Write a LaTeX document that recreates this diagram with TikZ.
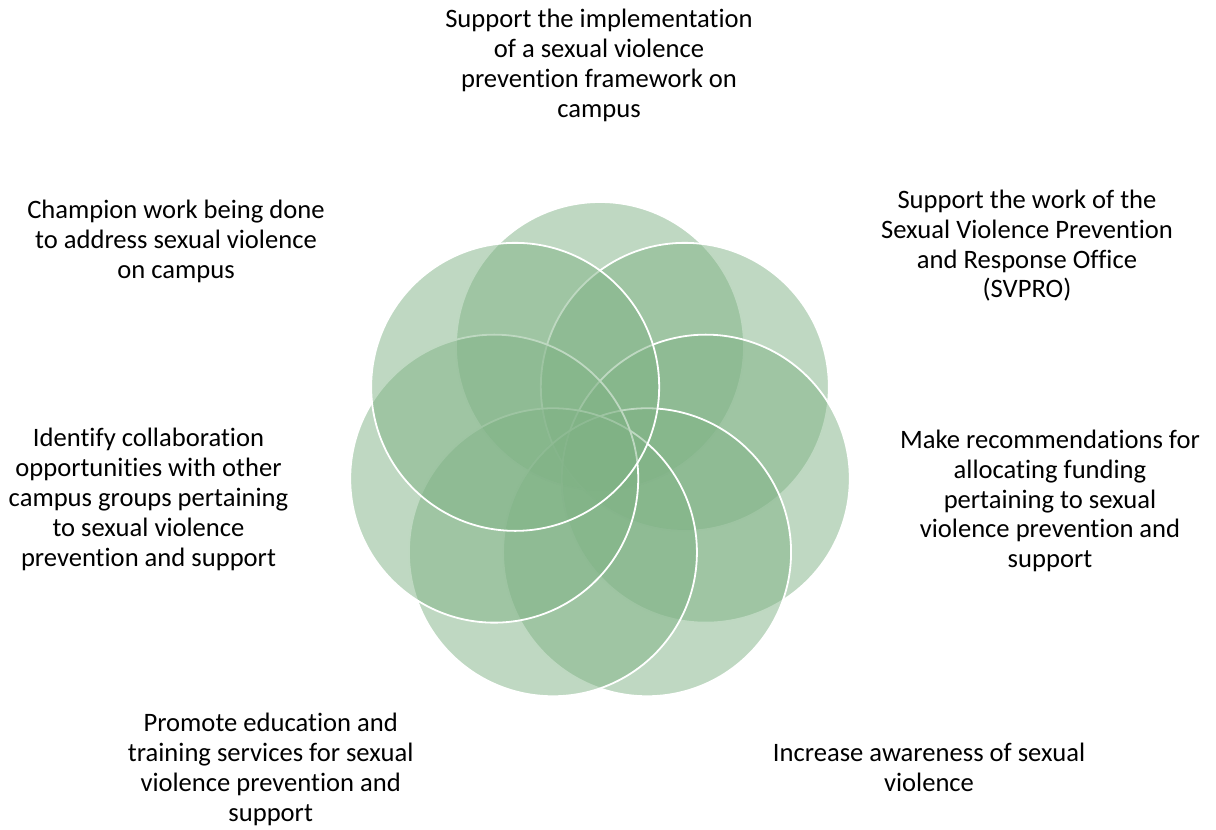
\documentclass[tikz,border=0pt]{standalone}
\usepackage{fontspec}
\setmainfont{Carlito}[Ligatures=NoCommon]
\definecolor{petalgreen}{RGB}{127,178,133}
\begin{document}
\begin{tikzpicture}[x=1pt,y=-1pt,
  petal/.style={circle, inner sep=0pt, outer sep=0pt, minimum size=288pt,
    fill=petalgreen, fill opacity=0.5, draw=white, draw opacity=1, line width=1.8pt},
  lbl/.style={align=center, anchor=north, inner sep=0pt, text=black,
    font=\fontsize{26.6}{29.8}\selectfont}]
\useasboundingbox (0,0) rectangle (1216,830);
% circles, drawn in order: top first, then clockwise
\foreach \i/\nm in {0/ctop,1/cur,2/cr,3/clr,4/cll,5/cl,6/cul} {
  \pgfmathsetmacro\cx{600+108.5*cos(90-51.4286*\i)}
  \pgfmathsetmacro\cy{454.5-108.5*sin(90-51.4286*\i)}
  \node[petal] (\nm) at (\cx,\cy) {};
}
% labels
\node[lbl] (ttop) at (599,6.8) {\strut Support the implementation\\of a sexual violence\\prevention framework on\\campus};
\node[lbl] (tur) at (1027,187.4) {\strut Support the work of the\\Sexual Violence Prevention\\and Response Office\\(SVPRO)};
\node[lbl] (tul) at (176,197.4) {\strut Champion work being done\\to address sexual violence\\on campus};
\node[lbl] (tr) at (1050,427.4) {\strut Make recommendations for\\allocating funding\\pertaining to sexual\\violence prevention and\\support};
\node[lbl] (tl) at (148.5,425.8) {\strut Identify collaboration\\opportunities with other\\campus groups pertaining\\to sexual violence\\prevention and support};
\node[lbl] (tll) at (270.7,710.8) {\strut Promote education and\\training services for sexual\\violence prevention and\\support};
\node[lbl] (tlr) at (929,740.8) {\strut Increase awareness of sexual\\violence};
\end{tikzpicture}
\end{document}
